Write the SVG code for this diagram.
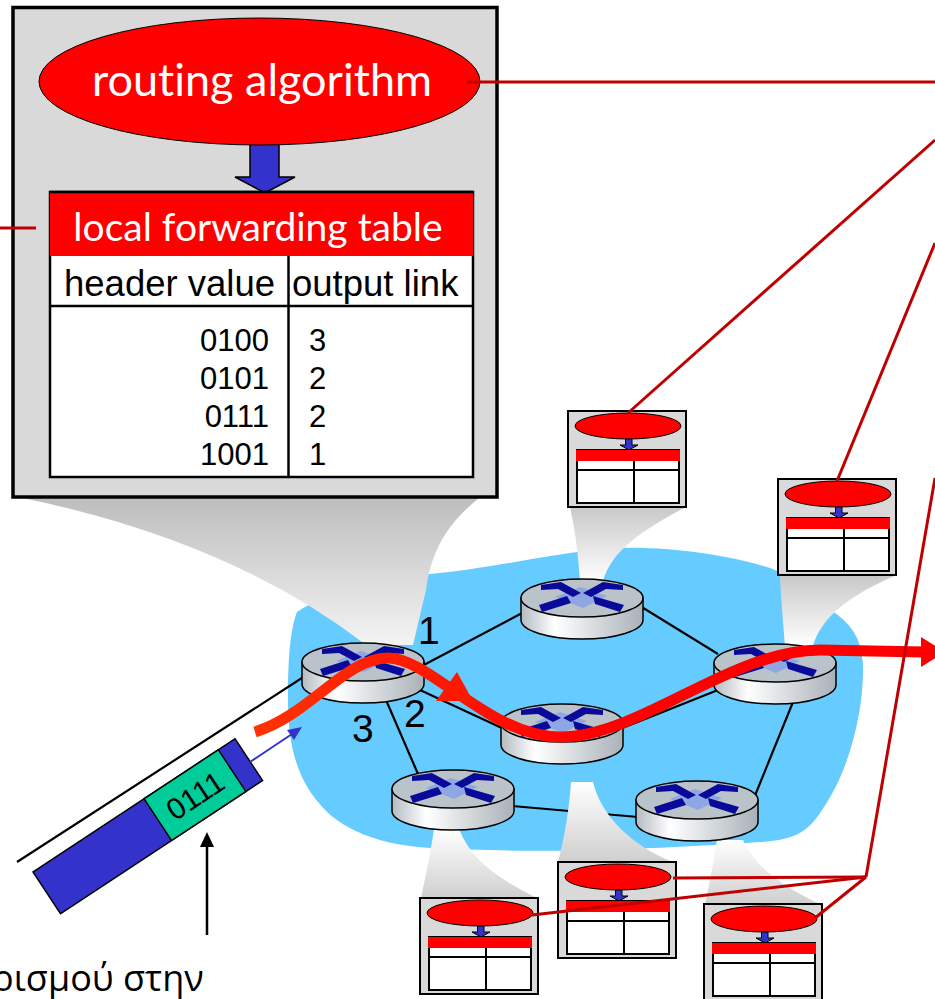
<svg xmlns="http://www.w3.org/2000/svg" xmlns:xlink="http://www.w3.org/1999/xlink" width="935" height="999" viewBox="0 0 935 999">
  <style>
    .ctl { stroke: #c00000; stroke-width: 3; fill: none; }
    .link { stroke: #000; stroke-width: 2.2; fill: none; }
    .rtop { fill: #bac3c9; stroke: #000; stroke-width: 1.5; }
    .rside { fill: url(#sideGrad); stroke: #000; stroke-width: 1.5; }
    .xdark { fill: #0a0a9a; }
    .xlight { fill: #8ea7e3; }
    .lato { font-family: Lato, "Open Sans", "Liberation Sans", sans-serif; font-variant-ligatures: none; }
    .arial { font-family: "Liberation Sans", Arial, sans-serif; }
    .port { font-family: "Liberation Sans", Arial, sans-serif; font-size: 39px; fill: #000; }
    .cell { font-family: "Liberation Sans", Arial, sans-serif; font-size: 31px; fill: #000; }
  </style>
  <defs>
    <linearGradient id="sideGrad" x1="0" y1="0" x2="1" y2="0">
      <stop offset="0" stop-color="#b4bbc1"/>
      <stop offset="0.28" stop-color="#ffffff"/>
      <stop offset="1" stop-color="#a9b1b8"/>
    </linearGradient>
    <linearGradient id="bigBeam" x1="0" y1="0" x2="0" y2="1">
      <stop offset="0" stop-color="#bdbdbd"/>
      <stop offset="1" stop-color="#f4f4f4"/>
    </linearGradient>
    <linearGradient id="beamDown" x1="0" y1="0" x2="0" y2="1">
      <stop offset="0" stop-color="#c9c9c9"/>
      <stop offset="1" stop-color="#ffffff"/>
    </linearGradient>
    <linearGradient id="beamUp" x1="0" y1="0" x2="0" y2="1">
      <stop offset="0" stop-color="#ffffff"/>
      <stop offset="1" stop-color="#cfcfcf"/>
    </linearGradient>
    <linearGradient id="pathGrad" gradientUnits="userSpaceOnUse" x1="255" y1="0" x2="600" y2="0">
      <stop offset="0" stop-color="#ff3300"/>
      <stop offset="0.55" stop-color="#ff1500"/>
      <stop offset="1" stop-color="#ff0000"/>
    </linearGradient>

    <!-- router: cylinder with crossed arrows on top, origin at centre of top face -->
    <g id="rtr">
      <path class="rside" d="M-61,0 L-61,22 A61,19 0 0 0 61,22 L61,0 Z"/>
      <ellipse class="rtop" cx="0" cy="0" rx="61" ry="19"/>
      <path class="xlight" d="M-27,-1 L-2,-11 L25,-2 L1,10 Z"/>
      <path class="xdark" d="M-41,-13 L-21,-16 L-1,-5 L-9,-1 L-24,-9 L-41,-8 Z"/>
      <path class="xdark" d="M41,-13 L21,-16 L1,-5 L9,-1 L24,-9 L41,-8 Z"/>
      <path class="xdark" d="M-43,7 L-15,-2 L-11,5 L-40,14 Z"/>
      <path class="xdark" d="M11,-2 L42,7 L38,14 L13,6 Z"/>
    </g>

    <!-- miniature router state: algorithm bubble, arrow, empty table -->
    <g id="mini">
      <rect x="0" y="0" width="118" height="96" fill="#d9d9d9" stroke="#000" stroke-width="2"/>
      <ellipse cx="60" cy="15" rx="53" ry="13" fill="#ff0000" stroke="#000" stroke-width="1"/>
      <path d="M57.5,28 L64,28 L64,34 L70,34 L61,39 L52,34 L57.5,34 Z" fill="#3333cc" stroke="#000" stroke-width="1"/>
      <rect x="9" y="39" width="102" height="53" fill="#fff" stroke="#000" stroke-width="2"/>
      <rect x="8" y="39" width="104" height="11" fill="#ff0000"/>
      <line x1="9" y1="59" x2="111" y2="59" stroke="#000" stroke-width="2"/>
      <line x1="66" y1="50" x2="66" y2="92" stroke="#000" stroke-width="2"/>
    </g>
  </defs>

  <!-- network cloud -->
  <path id="cloud" fill="#66ccff" d="M297,612 C330,590 380,578 430,574 C480,570 540,556 600,549 C660,544 730,555 770,568 C800,580 820,600 835,613 C852,625 862,640 863,665 C864,710 850,770 822,810 C808,832 795,840 760,842 C700,846 660,848 600,850 C530,852 480,850 430,848 C380,845 340,830 318,802 C295,775 288,740 288,700 C288,660 290,630 297,612 Z"/>

  <!-- links between routers -->
  <g id="links">
    <line class="link" x1="17" y1="862" x2="305" y2="676"/>
    <line class="link" x1="420" y1="667" x2="524" y2="612"/>
    <line class="link" x1="640" y1="606" x2="718" y2="654"/>
    <line class="link" x1="420" y1="690" x2="504" y2="729"/>
    <line class="link" x1="620" y1="729" x2="718" y2="690"/>
    <line class="link" x1="386" y1="700" x2="418" y2="774"/>
    <line class="link" x1="512" y1="806" x2="638" y2="817"/>
    <line class="link" x1="754" y1="798" x2="793" y2="702"/>
  </g>

  <!-- projection beams from routers to their state boxes -->
  <g id="beams">
    <path fill="url(#bigBeam)" d="M18,497 L480,497 C452,520 432,545 426,590 L413,645 L366,645 Q230,540 18,497 Z"/>
    <path fill="url(#beamDown)" d="M570,507 L686,507 C642,530 610,552 603,582 L580,582 C578,552 575,530 570,507 Z"/>
    <path fill="url(#beamDown)" d="M780,576 L894,576 C852,595 822,615 813,646 L785,646 C783,620 781,600 780,576 Z"/>
    <path fill="url(#beamUp)" d="M571,782 L593,782 C601,815 630,845 673,862 L558,862 C565,835 569,810 571,782 Z"/>
    <path fill="url(#beamUp)" d="M434,829 L459,829 C471,860 500,880 537,898 L421,898 C427,870 431,850 434,829 Z"/>
    <path fill="url(#beamUp)" d="M717,840 L743,840 C756,870 790,890 820,904 L705,904 C710,880 714,860 717,840 Z"/>
  </g>

  <!-- routers -->
  <g id="router-1" transform="translate(363,662)"><use xlink:href="#rtr"/></g>
  <g id="router-2" transform="translate(582,598)"><use xlink:href="#rtr"/></g>
  <g id="router-3" transform="translate(775,663)"><use xlink:href="#rtr"/></g>
  <g id="router-4" transform="translate(562,723)"><use xlink:href="#rtr"/></g>
  <g id="router-5" transform="translate(453,789)"><use xlink:href="#rtr"/></g>
  <g id="router-6" transform="translate(697,800)"><use xlink:href="#rtr"/></g>

  <!-- port numbers of router 1 -->
  <g id="ports">
    <text class="port" x="418" y="644">1</text>
    <text class="port" x="404" y="727">2</text>
    <text class="port" x="352" y="742">3</text>
  </g>

  <!-- packet path through the network -->
  <g id="packet-path">
    <path d="M255,732 C310,715 345,658 388,658 C430,658 490,737 560,737 C640,737 730,650 820,650 L924,652" fill="none" stroke="url(#pathGrad)" stroke-width="11"/>
    <polygon points="457,672 436,701 473,701" fill="#ff1800"/>
    <polygon points="921,637 921,667 945,652" fill="#ff0000"/>
  </g>

  <!-- arriving packet with header 0111 -->
  <g id="packet">
    <g transform="translate(33,872) rotate(-33.4)">
      <rect x="0" y="0" width="242" height="50" fill="#3333cc" stroke="#000" stroke-width="1.5"/>
      <rect x="133" y="0" width="89" height="50" fill="#00cc99" stroke="#000" stroke-width="1.5"/>
      <text class="arial" x="177.5" y="36" font-size="30" text-anchor="middle" fill="#000">0111</text>
    </g>
    <line x1="250" y1="762" x2="292" y2="734" stroke="#3333cc" stroke-width="2"/>
    <polygon points="302,727 294,740 287,730" fill="#3333cc"/>
  </g>

  <!-- header pointer and caption -->
  <g id="caption">
    <line x1="207" y1="935" x2="207" y2="844" stroke="#000" stroke-width="2.5"/>
    <polygon points="207,832 200,847 214,847" fill="#000"/>
    <text x="-8" y="991" font-family="'Open Sans', 'Noto Sans', sans-serif" font-size="36" fill="#000">ρισμού στην</text>
  </g>

  <!-- enlarged state of router 1 -->
  <g id="router-1-state">
    <rect x="13" y="7.5" width="484" height="489.5" fill="#d9d9d9" stroke="#000" stroke-width="3.5"/>
    <path d="M250,140 L279,140 L279,177 L295,177 L265,193 L235,177 L250,177 Z" fill="#3333cc" stroke="#000" stroke-width="1.5"/>
    <ellipse cx="259.5" cy="81.5" rx="220.5" ry="63.5" fill="#ff0000" stroke="#000" stroke-width="1"/>
    <text class="lato" x="262" y="96" font-size="45" text-anchor="middle" fill="#fff">routing algorithm</text>
    <rect x="50" y="192" width="423" height="285" fill="#fff" stroke="#000" stroke-width="2.5"/>
    <rect x="50" y="192" width="423" height="64" fill="#ff0000"/>
    <line x1="50" y1="192" x2="473" y2="192" stroke="#000" stroke-width="2.5"/>
    <text class="lato" x="258" y="241" font-size="39" text-anchor="middle" fill="#fff">local forwarding table</text>
    <line x1="50" y1="306" x2="473" y2="306" stroke="#000" stroke-width="2.5"/>
    <line x1="288.5" y1="256" x2="288.5" y2="477" stroke="#000" stroke-width="2.5"/>
    <text class="arial" x="64" y="296" font-size="36.5" fill="#000">header value</text>
    <text class="arial" x="292" y="296" font-size="36.5" fill="#000">output link</text>
    <text class="cell" x="269" y="351" text-anchor="end">0100</text>
    <text class="cell" x="269" y="389" text-anchor="end">0101</text>
    <text class="cell" x="269" y="427" text-anchor="end">0111</text>
    <text class="cell" x="269" y="465" text-anchor="end">1001</text>
    <text class="cell" x="309" y="351">3</text>
    <text class="cell" x="309" y="389">2</text>
    <text class="cell" x="309" y="427">2</text>
    <text class="cell" x="309" y="465">1</text>
  </g>

  <!-- state boxes of the other routers -->
  <g id="router-2-state" transform="translate(568,411)"><use xlink:href="#mini"/></g>
  <g id="router-3-state" transform="translate(778,479)"><use xlink:href="#mini"/></g>
  <g id="router-4-state" transform="translate(558,862)"><use xlink:href="#mini"/></g>
  <g id="router-5-state" transform="translate(420,898)"><use xlink:href="#mini"/></g>
  <g id="router-6-state" transform="translate(704,904)"><use xlink:href="#mini"/></g>

  <!-- control-plane connections between routing algorithms -->
  <g id="control">
    <line class="ctl" x1="0" y1="228" x2="36" y2="228"/>
    <line class="ctl" x1="467" y1="82" x2="935" y2="82"/>
    <line class="ctl" x1="935" y1="140" x2="628" y2="413"/>
    <line class="ctl" x1="935" y1="243" x2="837" y2="481"/>
    <line class="ctl" x1="935" y1="478" x2="866" y2="877"/>
    <line class="ctl" x1="866" y1="877" x2="673" y2="878"/>
    <line class="ctl" x1="866" y1="877" x2="532" y2="915"/>
    <line class="ctl" x1="866" y1="877" x2="815" y2="918"/>
  </g>
</svg>
